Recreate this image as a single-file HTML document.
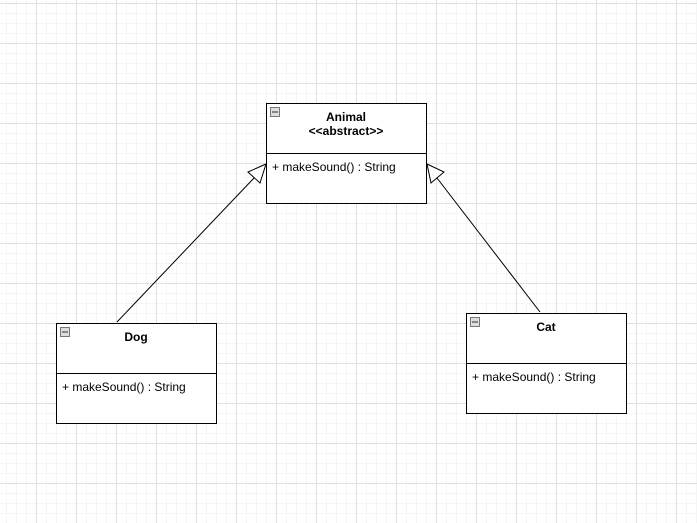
<!DOCTYPE html>
<html><head><style>
html,body{margin:0;padding:0;}
body{width:697px;height:523px;overflow:hidden;background:#fff;
background-image:
linear-gradient(to right,#e0e0e0 1px,transparent 1px),
linear-gradient(to bottom,#e0e0e0 1px,transparent 1px),
linear-gradient(to right,#f5f5f5 1px,transparent 1px),
linear-gradient(to bottom,#f5f5f5 1px,transparent 1px);
background-size:40px 40px,40px 40px,10px 10px,10px 10px;
background-position:36px 3px,36px 3px,6px 3px,6px 3px;
font-family:"Liberation Sans",sans-serif;font-size:12px;}
</style></head><body>
<svg width="697" height="523" style="position:absolute;left:0;top:0" font-family="Liberation Sans, sans-serif" font-size="12">
<g fill="#fff" stroke="#000" stroke-width="1">
<rect x="266.5" y="103.5" width="160" height="100"/>
<line x1="266" y1="153.5" x2="427" y2="153.5"/>
<rect x="56.5" y="323.5" width="160" height="100"/>
<line x1="56" y1="373.5" x2="217" y2="373.5"/>
<rect x="466.5" y="313.5" width="160" height="100"/>
<line x1="466" y1="363.5" x2="627" y2="363.5"/>
</g>
<g fill="#ddd" stroke="#777">
<rect x="270.5" y="107.5" width="9" height="9"/>
<rect x="60.5" y="327.5" width="9" height="9"/>
<rect x="470.5" y="317.5" width="9" height="9"/>
</g>
<g stroke="#333"><line x1="272" y1="112" x2="278" y2="112"/><line x1="62" y1="332" x2="68" y2="332"/><line x1="472" y1="322" x2="478" y2="322"/></g>
<g stroke="#000" fill="none">
<line x1="117" y1="322" x2="254" y2="178"/>
<polygon points="266,164 248,172 260,183" fill="#fff"/>
<line x1="540" y1="312" x2="437" y2="178"/>
<polygon points="427,164 444,172 431,183" fill="#fff"/>
</g>
<g fill="#000">
<text x="346" y="121" text-anchor="middle" font-weight="bold">Animal</text>
<text x="346" y="135" text-anchor="middle" font-weight="bold">&lt;&lt;abstract&gt;&gt;</text>
<text x="272" y="171">+ makeSound() : String</text>
<text x="136" y="341" text-anchor="middle" font-weight="bold">Dog</text>
<text x="62" y="391">+ makeSound() : String</text>
<text x="546" y="331" text-anchor="middle" font-weight="bold">Cat</text>
<text x="472" y="381">+ makeSound() : String</text>
</g>
</svg>
</body></html>
